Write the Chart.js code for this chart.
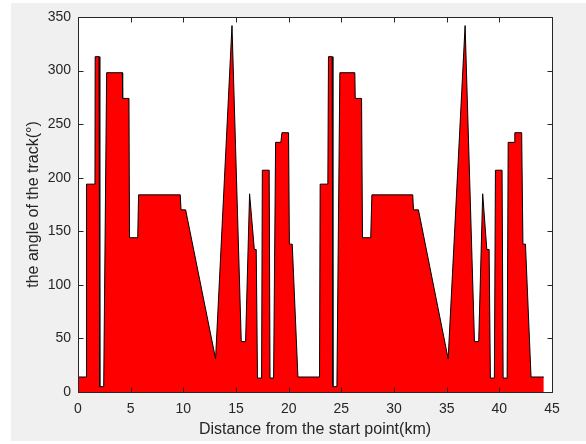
<!DOCTYPE html>
<html>
<head>
<meta charset="utf-8">
<script src="https://cdn.jsdelivr.net/npm/chart.js@4.4.1/dist/chart.umd.min.js"></script>
<style>
    html, body { margin: 0; padding: 0; background: #ffffff; }
    #wrap { width: 586px; height: 444px; }
</style>
</head>
<body>
<div id="wrap"><canvas id="trackChart"></canvas></div>
<script>
// distance along the route (km) and the track angle (deg) at each point
const distKm = [
    0, 0.81, 0.81, 1.61, 1.63, 2.0, 2.07, 2.44, 2.72, 4.21, 4.24, 4.84, 4.89, 5.67, 5.75, 9.71, 9.78, 10.22,
    13.06, 14.62, 15.5, 15.91, 16.29, 16.74, 16.92, 17.04, 17.43, 17.5, 18.15, 18.23, 18.57, 18.76, 19.26,
    19.36, 19.99, 20.07, 20.34, 20.88, 22.93, 22.99, 23.72, 23.78, 24.13, 24.2, 24.58, 24.86, 26.28, 26.32,
    26.92, 27.01, 27.79, 27.9, 31.78, 31.85, 32.32, 35.14, 36.75, 37.64, 38.04, 38.42, 38.81, 39.03,
    39.15, 39.53, 39.63, 40.26, 40.36, 40.74, 40.84, 41.4, 41.47, 42.12, 42.24, 42.48, 43.01, 44.22
];
const angleDeg = [
    14, 14, 194, 194, 313, 313, 5, 5, 298, 298, 274, 274, 144, 144, 184, 184, 170, 170,
    31, 342, 47, 47, 185, 133, 133, 13, 13, 207, 207, 13, 13, 233, 233,
    242, 242, 138, 138, 14, 14, 194, 194, 313, 313, 5, 5, 298, 298, 274,
    274, 144, 144, 184, 184, 170, 170, 31, 342, 47, 47, 185, 133, 133,
    13, 13, 207, 207, 13, 13, 233, 233, 242, 242, 138, 138, 14, 14
];
const xTicks = [0, 5, 10, 15, 20, 25, 30, 35, 40, 45];
const yTicks = [0, 50, 100, 150, 200, 250, 300, 350];

const points = distKm.map((d, i) => ({ x: d, y: angleDeg[i] }));
const axisColor = '#262626';

// grey figure, white plot box, then frame with inward ticks (matlab look)
const boxPlugin = {
    id: 'matlabBox',
    beforeDraw: function (chart) {
        const a = chart.chartArea;
        const ctx = chart.ctx;
        ctx.save();
        ctx.fillStyle = '#f0f0f0';
        ctx.fillRect(11, 3, chart.width - 11, 438);
        ctx.fillStyle = '#ffffff';
        ctx.fillRect(a.left, a.top, a.right - a.left, a.bottom - a.top);
        ctx.restore();
    },
    afterDraw: function (chart) {
        const a = chart.chartArea;
        const ctx = chart.ctx;
        const xs = chart.scales.x;
        const ys = chart.scales.y;
        const len = 5;
        const l = Math.round(a.left) + 0.5, r = Math.round(a.right) + 0.5;
        const t = Math.round(a.top) + 0.5, b = Math.round(a.bottom) + 0.5;
        ctx.save();
        ctx.strokeStyle = axisColor;
        ctx.lineWidth = 1;
        ctx.beginPath();
        ctx.rect(l, t, r - l, b - t);
        xTicks.forEach(function (v) {
            const px = Math.round(xs.getPixelForValue(v)) + 0.5;
            ctx.moveTo(px, b); ctx.lineTo(px, b - len);
            ctx.moveTo(px, t); ctx.lineTo(px, t + len);
        });
        yTicks.forEach(function (v) {
            const py = Math.round(ys.getPixelForValue(v)) + 0.5;
            ctx.moveTo(l, py); ctx.lineTo(l + len, py);
            ctx.moveTo(r, py); ctx.lineTo(r - len, py);
        });
        ctx.stroke();
        ctx.restore();
    }
};

const tickFont = { family: 'Liberation Sans, Arial, sans-serif', size: 14 };
const titleFont = { family: 'Liberation Sans, Arial, sans-serif', size: 16 };

new Chart(document.getElementById('trackChart'), {
    type: 'line',
    data: {
        datasets: [{
            data: points,
            fill: 'origin',
            backgroundColor: '#ff0000',
            borderColor: '#000000',
            borderWidth: 1,
            pointRadius: 0,
            tension: 0
        }]
    },
    options: {
        responsive: true,
        maintainAspectRatio: false,
        animation: false,
        layout: { padding: { left: 0, right: 34, top: 17, bottom: 0 } },
        plugins: {
            legend: { display: false },
            tooltip: { enabled: false }
        },
        scales: {
            x: {
                type: 'linear',
                min: 0,
                max: 45,
                afterBuildTicks: function (s) { s.ticks = xTicks.map(v => ({ value: v })); },
                afterFit: function (s) { s.height = 52; },
                grid: { display: false, drawTicks: false },
                border: { display: false },
                ticks: { color: axisColor, font: tickFont, padding: 9, maxRotation: 0 },
                title: {
                    display: true,
                    text: 'Distance from the start point(km)',
                    color: axisColor,
                    font: titleFont,
                    padding: { top: 0, bottom: 5 }
                }
            },
            y: {
                min: 0,
                max: 350,
                afterBuildTicks: function (s) { s.ticks = yTicks.map(v => ({ value: v })); },
                afterFit: function (s) { s.width = 78; },
                grid: { display: false, drawTicks: false },
                border: { display: false },
                ticks: { color: axisColor, font: tickFont, padding: 7 },
                title: {
                    display: true,
                    text: 'the angle of the track(°)',
                    color: axisColor,
                    font: titleFont,
                    padding: { top: 24, bottom: 0 }
                }
            }
        }
    },
    plugins: [boxPlugin]
});
</script>
</body>
</html>
